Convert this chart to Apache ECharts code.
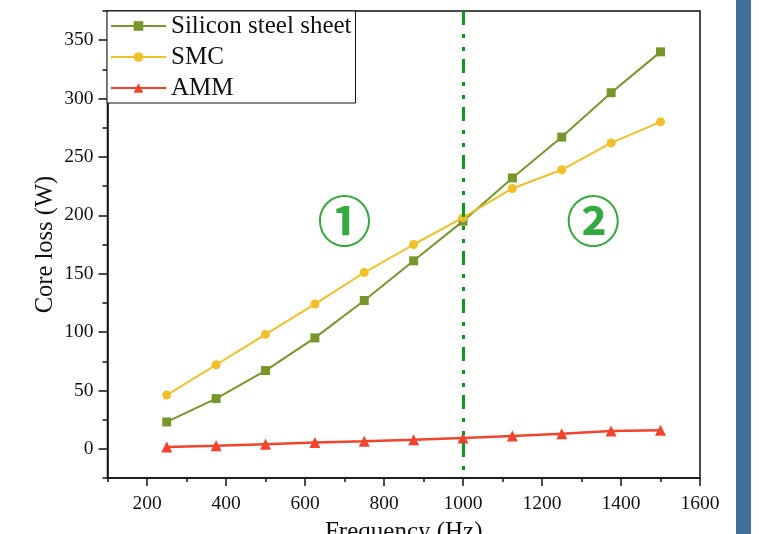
<!DOCTYPE html>
<html>
<head>
<meta charset="utf-8">
<script src="https://cdn.jsdelivr.net/npm/echarts@6/dist/echarts.min.js"></script>
<style>
  html, body { margin: 0; padding: 0; background: #fff; }
  #chart { width: 759px; height: 534px; }
</style>
</head>
<body>
<div id="chart"></div>
<script>
// data
const freq = [250, 375, 500, 625, 750, 875, 1000, 1125, 1250, 1375, 1500]
const silicon = [23, 43, 67, 95, 127, 161, 195, 232, 267, 305, 340]
const smc = [46, 72, 98, 124, 151, 175, 198, 223, 239, 262, 280]
const amm = [1.5, 2.6, 4, 5.4, 6.5, 7.7, 9.2, 11, 12.8, 15.2, 16]

const xTickLabels = [200, 400, 600, 800, 1000, 1200, 1400, 1600]
const yTickLabels = [0, 50, 100, 150, 200, 250, 300, 350]

const yMin = -25
const yMax = 375
const dividerFreq = 1000
const regionLabels = ['①', '②']
const regionX = [700, 1330]
const regionY = [195, 195]

const serif = '"Liberation Serif", "Times New Roman", serif'

const chart = echarts.init(document.getElementById('chart'))

const toPairs = (ys) => freq.map((f, i) => [f, ys[i]])

const option = {
  animation: false,
  backgroundColor: '#fff',
  grid: {
    left: 107.5,
    right: 59,
    top: 11,
    bottom: 56,
    outerBoundsMode: 'none',
    containLabel: false,
    show: true,
    borderColor: '#111',
    borderWidth: 1.5
  },
  legend: {
    left: 107,
    top: 11,
    orient: 'vertical',
    backgroundColor: '#fff',
    borderColor: '#111',
    borderWidth: 1,
    borderRadius: 0,
    padding: [2, 4, 2, 3],
    itemWidth: 55,
    itemHeight: 12,
    itemGap: 5,
    textStyle: {
      fontFamily: serif,
      fontSize: 25,
      lineHeight: 26,
      color: '#111'
    },
    data: ['Silicon steel sheet', 'SMC', 'AMM']
  },
  xAxis: [
    {
      type: 'value',
      min: 100,
      max: 1600,
      interval: 100,
      splitLine: { show: false },
      axisLine: { onZero: false, lineStyle: { color: '#111', width: 1.5 } },
      axisTick: { show: true, inside: false, length: 4, lineStyle: { color: '#111', width: 1.5 } },
      axisLabel: {
        margin: 15.5,
        fontFamily: serif,
        fontSize: 19.5,
        color: '#111',
        formatter: (v) => (xTickLabels.includes(v) ? String(v) : '')
      },
      name: 'Frequency (Hz)',
      nameLocation: 'middle',
      nameGap: 42,
      nameMoveOverlap: false,
      nameTextStyle: { fontFamily: serif, fontSize: 25, color: '#111', verticalAlign: 'top' }
    },
    {
      type: 'value',
      position: 'bottom',
      min: 100,
      max: 1600,
      splitLine: { show: false },
      axisLine: { show: false, onZero: false },
      axisLabel: { show: false },
      axisTick: {
        show: true,
        length: 8,
        customValues: xTickLabels,
        lineStyle: { color: '#111', width: 1.5 }
      }
    }
  ],
  yAxis: [
    {
      type: 'value',
      position: 'left',
      min: yMin,
      max: yMax,
      interval: 25,
      splitLine: { show: false },
      axisLine: { show: true, onZero: false, lineStyle: { color: '#111', width: 1.5 } },
      axisTick: { show: true, inside: false, length: 5, lineStyle: { color: '#111', width: 1.5 } },
      axisLabel: {
        margin: 14,
        fontFamily: serif,
        fontSize: 19.5,
        color: '#111',
        formatter: (v) => (yTickLabels.includes(v) ? String(v) : '')
      },
      name: 'Core loss (W)',
      nameLocation: 'middle',
      nameGap: 49,
      nameMoveOverlap: false,
      nameTextStyle: { fontFamily: serif, fontSize: 24.5, color: '#111' }
    },
    {
      type: 'value',
      position: 'left',
      min: yMin,
      max: yMax,
      splitLine: { show: false },
      axisLine: { show: false, onZero: false },
      axisLabel: { show: false },
      axisTick: {
        show: true,
        length: 9,
        customValues: yTickLabels,
        lineStyle: { color: '#111', width: 1.5 }
      }
    }
  ],
  series: [
    {
      name: 'Silicon steel sheet',
      type: 'line',
      data: toPairs(silicon),
      symbol: 'rect',
      symbolSize: 9,
      color: '#77962b',
      lineStyle: { width: 2 },
      itemStyle: { color: '#77962b' },
      z: 3
    },
    {
      name: 'SMC',
      type: 'line',
      data: toPairs(smc),
      symbol: 'circle',
      symbolSize: 9,
      color: '#efc02a',
      lineStyle: { width: 2 },
      itemStyle: { color: '#efc02a' },
      z: 4
    },
    {
      name: 'AMM',
      type: 'line',
      data: toPairs(amm),
      symbol: 'triangle',
      symbolSize: 11,
      color: '#f4432c',
      lineStyle: { width: 2.5 },
      itemStyle: { color: '#f4432c' },
      z: 3,
      markLine: {
        silent: true,
        symbol: ['none', 'none'],
        label: { show: false },
        lineStyle: {
          color: '#0b9a1c',
          width: 3,
          type: [14, 9, 4, 9, 4, 8]
        },
        // drawn top-down so the dash pattern starts at the frame top
        data: [[{ coord: [dividerFreq, yMax] }, { coord: [dividerFreq, yMin] }]]
      }
    },
    {
      name: 'regions',
      type: 'scatter',
      symbolSize: 0,
      silent: true,
      data: regionX.map((x, i) => ({ value: [x, regionY[i]], text: regionLabels[i] })),
      label: {
        show: true,
        position: 'inside',
        formatter: (p) => p.data.text,
        fontFamily: '"Noto Sans CJK SC", "DejaVu Sans", sans-serif',
        fontWeight: 'bold',
        fontSize: 54,
        color: '#00930f'
      },
      z: 5
    }
  ],
  graphic: [
    {
      type: 'rect',
      left: 736,
      top: 0,
      shape: { width: 15, height: 534 },
      style: { fill: '#42709d' },
      silent: true
    }
  ]
}

chart.setOption(option)

window.addEventListener('resize', () => chart.resize())
</script>
</body>
</html>
